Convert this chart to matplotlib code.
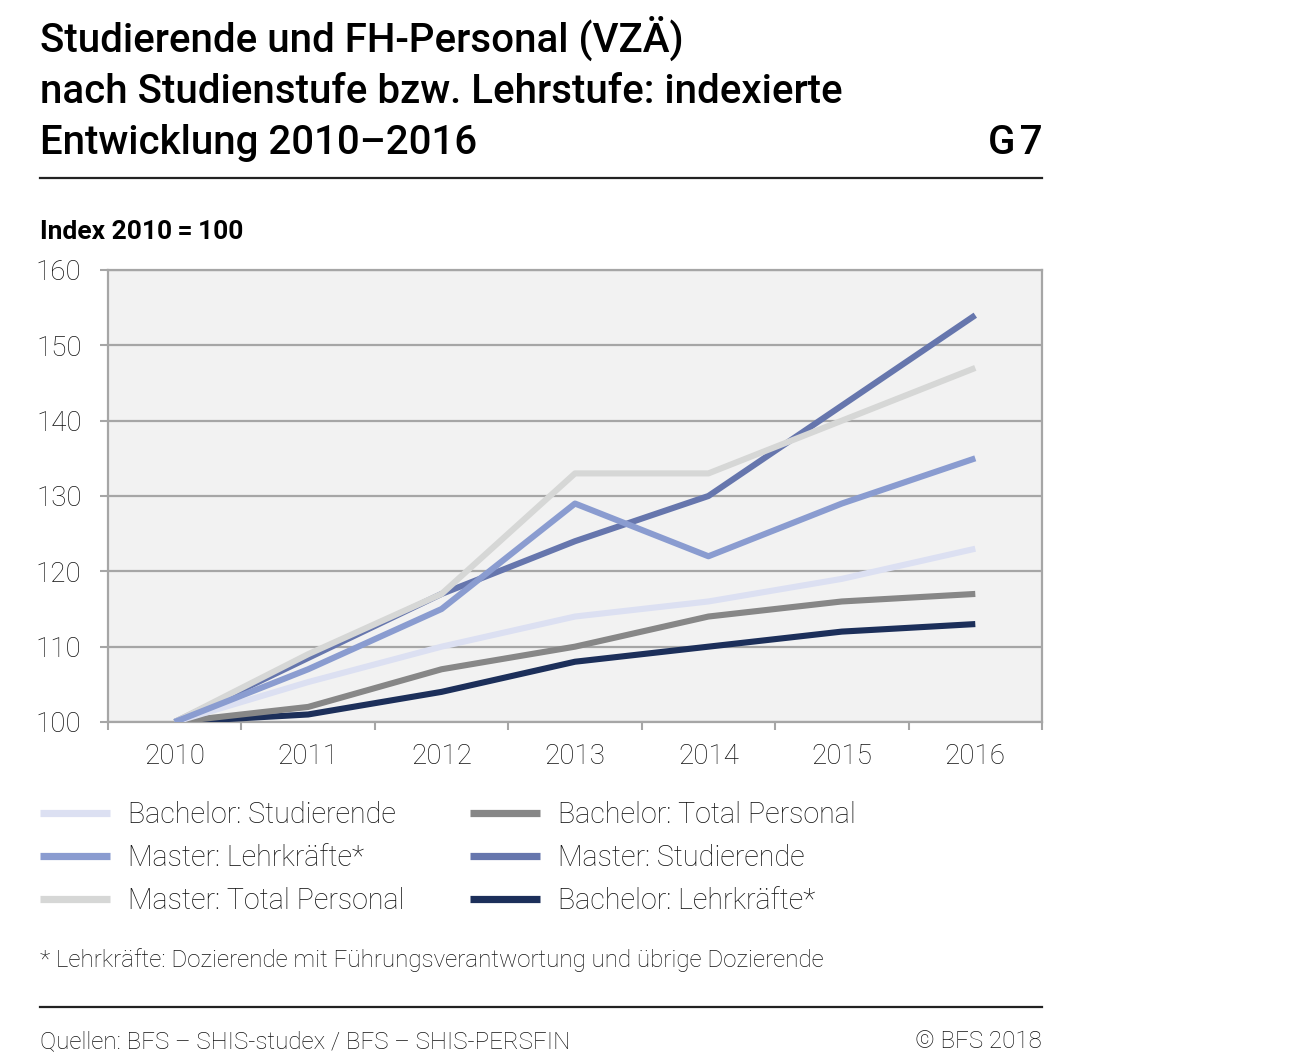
import matplotlib
matplotlib.use("Agg")
import matplotlib.pyplot as plt
from matplotlib.lines import Line2D

plt.rcParams['font.family'] = ['Roboto', 'DejaVu Sans']

years = ['2010', '2011', '2012', '2013', '2014', '2015', '2016']

bachelor_studierende = [100, 105.3, 110, 114, 116, 119, 123]
bachelor_total_personal = [100, 102, 107, 110, 114, 116, 117]
master_lehrkraefte = [100, 107, 115, 129, 122, 129, 135]
master_studierende = [100, 108.5, 117, 124, 130, 142, 154]
master_total_personal = [100, 109, 117, 133, 133, 140, 147]
bachelor_lehrkraefte = [100, 101, 104, 108, 110, 112, 113]

y_ticks = [100, 110, 120, 130, 140, 150, 160]

c_bs = '#dce0f2'
c_btp = '#878787'
c_ml = '#8a9cd0'
c_ms = '#6676ad'
c_mtp = '#d6d7d6'
c_bl = '#1c2f5a'

W, H = 1299, 1060
fig = plt.figure(figsize=(W / 100, H / 100), dpi=100)

ax = fig.add_axes([108 / W, 1 - 722 / H, (1042 - 108) / W, (722 - 270) / H])
ax.set_facecolor('#f2f2f2')

x = list(range(len(years)))
lw = 4.4
ax.plot(x, bachelor_lehrkraefte, color=c_bl, lw=lw, solid_capstyle='butt', zorder=3)
ax.plot(x, bachelor_total_personal, color=c_btp, lw=lw, solid_capstyle='butt', zorder=3)
ax.plot(x, bachelor_studierende, color=c_bs, lw=lw, solid_capstyle='butt', zorder=3)
ax.plot(x, master_studierende, color=c_ms, lw=lw, solid_capstyle='butt', zorder=3)
ax.plot(x, master_total_personal, color=c_mtp, lw=lw, solid_capstyle='butt', zorder=3)
ax.plot(x, master_lehrkraefte, color=c_ml, lw=lw, solid_capstyle='butt', zorder=3)

ax.set_xlim(-0.5, len(years) - 0.5)
ax.set_ylim(100, 160)
ax.set_yticks(y_ticks)
ax.set_yticklabels([str(v) for v in y_ticks])
ax.set_xticks(x)
ax.set_xticklabels(years)
ax.set_xticks([i - 0.5 for i in range(len(years) + 1)], minor=True)
ax.tick_params(axis='x', which='major', length=0, pad=15, labelsize=20, colors='#111111')
ax.tick_params(axis='x', which='minor', length=6, width=1.5, color='#a6a6a6')
ax.tick_params(axis='y', length=6, width=1.5, color='#a6a6a6', pad=13, labelsize=20,
               labelcolor='#111111')
for lab in ax.get_xticklabels() + ax.get_yticklabels():
    lab.set_fontweight('light')
ax.grid(axis='y', color='#a6a6a6', lw=1.6, zorder=1)
ax.set_axisbelow(True)
for s in ax.spines.values():
    s.set_color('#a6a6a6')
    s.set_linewidth(1.6)

# titles
title_lines = ['Studierende und FH-Personal (VZÄ)',
               'nach Studienstufe bzw. Lehrstufe: indexierte',
               'Entwicklung 2010\u20132016']
for i, t in enumerate(title_lines):
    fig.text(40 / W, 1 - (52 + 51 * i) / H, t, fontsize=29, fontweight='medium',
             ha='left', va='baseline')
fig.text(1042 / W, 1 - 154 / H, 'G\u200a7', fontsize=29, fontweight='medium',
         ha='right', va='baseline')
fig.add_artist(Line2D([40 / W, 1042 / W], [1 - 178 / H, 1 - 178 / H], color='#222222', lw=1.6))
fig.text(40 / W, 1 - 239 / H, 'Index 2010\u2009=\u2009100', fontsize=19, fontweight='bold',
         ha='left', va='baseline')

# legend
def handles(items):
    return [Line2D([], [], color=c, lw=5.2, solid_capstyle='butt') for c, _ in items]

col1 = [(c_bs, 'Bachelor: Studierende'), (c_ml, 'Master: Lehrkräfte*'),
        (c_mtp, 'Master: Total Personal')]
col2 = [(c_btp, 'Bachelor: Total Personal'), (c_ms, 'Master: Studierende'),
        (c_bl, 'Bachelor: Lehrkräfte*')]
for items, x0 in [(col1, 40), (col2, 470)]:
    leg = fig.legend(handles(items), [l for _, l in items], loc='upper left',
                     bbox_to_anchor=(x0 / W, 1 - 801 / H), frameon=False,
                     fontsize=20.6, handlelength=2.45, handletextpad=0.62,
                     labelspacing=0.53, borderpad=0, borderaxespad=0)
    for t in leg.get_texts():
        t.set_fontweight('light')
        t.set_color('#111111')

fig.text(40 / W, 1 - 967 / H,
         '* Lehrkräfte: Dozierende mit Führungsverantwortung und übrige Dozierende',
         fontsize=17.4, fontweight='light', color='#111111', ha='left', va='baseline')
fig.add_artist(Line2D([40 / W, 1042 / W], [1 - 1007 / H, 1 - 1007 / H], color='#222222', lw=1.6))
fig.text(40 / W, 1 - 1048 / H, 'Quellen: BFS \u2013 SHIS-studex / BFS \u2013 SHIS-PERSFIN',
         fontsize=17.4, fontweight='light', color='#111111', ha='left', va='baseline')
fig.text(1042 / W, 1 - 1048 / H, '© BFS 2018', fontsize=17.4, fontweight='light',
         color='#111111', ha='right', va='baseline')

fig.savefig('out.png', dpi=100)
